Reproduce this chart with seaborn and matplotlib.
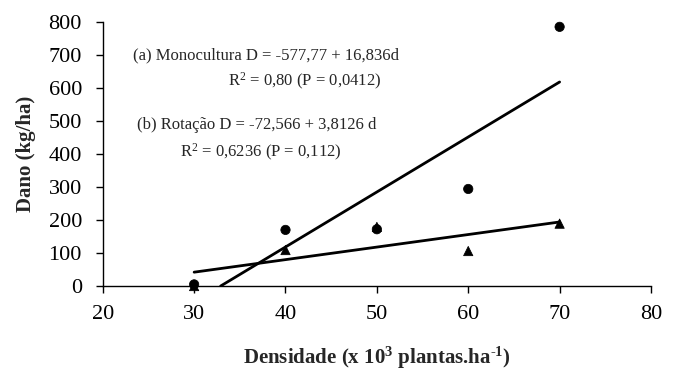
import matplotlib
matplotlib.use('Agg')
import matplotlib.pyplot as plt
import pandas as pd
import seaborn as sns

# data
densidade = [30, 40, 50, 60, 70]
dano_mono = [5, 170, 172, 294, 785]
dano_rot = [0, 109, 179, 106, 189]

# fitted lines (as drawn)
fit_mono_x = [32.9, 70]
fit_mono_y = [0, 618]
fit_rot_x = [30, 70]
fit_rot_y = [42, 194]

sns.set_style('ticks')
plt.rcParams['font.family'] = ['Liberation Serif', 'DejaVu Serif']
plt.rcParams['mathtext.default'] = 'regular'

df = pd.DataFrame({
    'Densidade': densidade * 2,
    'Dano': dano_mono + dano_rot,
    'Sistema': ['Monocultura'] * 5 + ['Rotação'] * 5,
})

fig = plt.figure(figsize=(6.76, 3.71), dpi=100)
ax = fig.add_axes([0.152, 0.229, 0.811, 0.712])

sns.lineplot(x=fit_mono_x, y=fit_mono_y, color='black', linewidth=2, ax=ax)
sns.lineplot(x=fit_rot_x, y=fit_rot_y, color='black', linewidth=2, ax=ax)
sns.scatterplot(data=df, x='Densidade', y='Dano', style='Sistema',
                markers={'Monocultura': 'o', 'Rotação': '^'},
                color='black', s=45, edgecolor='black', legend=False,
                ax=ax, zorder=3, clip_on=False)

ax.set_xlim(20, 80)
ax.set_ylim(0, 800)
ax.set_xticks([20, 30, 40, 50, 60, 70, 80])
ax.set_yticks(range(0, 801, 100))
ax.tick_params(labelsize=16, direction='out', length=5, width=1, colors='black')
ax.tick_params(axis='x', pad=9)
ax.tick_params(axis='y', pad=10)
sns.despine(ax=ax)
for sp in ['left', 'bottom']:
    ax.spines[sp].set_linewidth(1)
    ax.spines[sp].set_color('black')

ax.set_xlabel('Densidade (x 10$^{3}$ plantas.ha$^{\u20101}$)', fontsize=15,
              fontweight='bold', labelpad=14.5)
ax.set_ylabel('Dano (kg/ha)', fontsize=15, fontweight='bold', labelpad=9)

ax.text(23.3, 700, '(a) Monocultura D = -577,77 + 16,836d', fontsize=12, va='center')
ax.text(33.7, 620, 'R$^{2}$ = 0,80 (P = 0,0412)', fontsize=12, va='center')
ax.text(23.8, 488, '(b) Rotação D = -72,566 + 3,8126 d', fontsize=12, va='center')
ax.text(28.4, 405, 'R$^{2}$ = 0,6236 (P = 0,112)', fontsize=12, va='center')

plt.savefig('out.png', dpi=100)
plt.close()
